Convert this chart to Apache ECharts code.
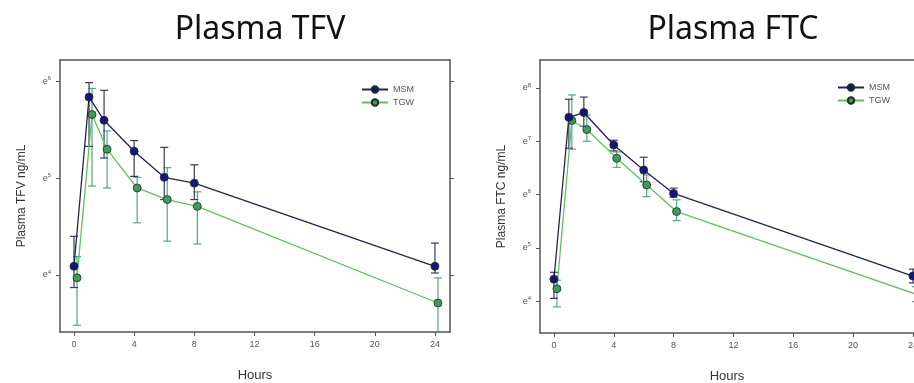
<!DOCTYPE html>
<html>
<head>
<meta charset="utf-8">
<script src="https://cdn.jsdelivr.net/npm/echarts@6/dist/echarts.min.js"></script>
<style>
html,body{margin:0;padding:0;background:#fff;}
#c{width:914px;height:383px;}
</style>
</head>
<body>
<div id="c"></div>
<script>
// Time points (hours); TGW points are drawn slightly offset in the reference
const hoursMSM = [0, 1, 2, 4, 6, 8, 24];
const hoursTGW = [0.2, 1.2, 2.2, 4.2, 6.2, 8.2, 24.2];
const xTicks = [0, 4, 8, 12, 16, 20, 24];

// Values are natural-log exponents (axis labelled e^n)
const tfvMSM     = [4.09, 5.84, 5.60, 5.28, 5.01, 4.95, 4.09];
const tfvMSMHigh = [4.40, 5.99, 5.91, 5.39, 5.32, 5.14, 4.33];
const tfvMSMLow  = [3.87, 5.33, 5.21, 5.02, 4.78, 4.78, 4.02];
const tfvTGW     = [3.97, 5.66, 5.30, 4.90, 4.78, 4.71, 3.71];
const tfvTGWHigh = [4.19, 5.93, 5.49, 5.01, 5.11, 4.86, 3.97];
const tfvTGWLow  = [3.48, 4.92, 4.90, 4.54, 4.35, 4.32, 3.35];

const ftcMSM     = [4.41, 7.45, 7.54, 6.93, 6.46, 6.02, 4.47];
const ftcMSMHigh = [4.54, 7.79, 7.83, 7.02, 6.70, 6.12, 4.60];
const ftcMSMLow  = [4.05, 6.87, 7.28, 6.82, 6.24, 5.95, 4.34];
const ftcTGW     = [4.23, 7.39, 7.22, 6.68, 6.18, 5.68, 4.13];
const ftcTGWHigh = [4.39, 7.87, 7.49, 6.80, 6.37, 5.90, 4.27];
const ftcTGWLow  = [3.89, 6.85, 7.00, 6.51, 5.96, 5.51, 3.99];

const tfvTicks = [4, 5, 6];
const ftcTicks = [4, 5, 6, 7, 8];

const MSM_LINE = '#23234f', MSM_MARK = '#15157a', MSM_BAR = '#3a3a5a';
const TGW_LINE = '#62c062', TGW_MARK = '#3f9a5e', TGW_BAR = '#55a880';
const FONT = 'Liberation Sans, Arial, sans-serif';
const AX = '#555';

function pairs(xs, ys){ return xs.map((x,i)=>[x, ys[i]]); }
function bars(xs, lo, hi){ return xs.map((x,i)=>[x, lo[i], hi[i]]); }

function errRender(color){
  return function(params, api){
    const x = api.value(0);
    const lo = api.coord([x, api.value(1)]);
    const hi = api.coord([x, api.value(2)]);
    const w = 4;
    const st = {stroke: color, lineWidth: 1.2};
    return {type:'group', children:[
      {type:'line', shape:{x1:lo[0],y1:lo[1],x2:hi[0],y2:hi[1]}, style:st},
      {type:'line', shape:{x1:hi[0]-w,y1:hi[1],x2:hi[0]+w,y2:hi[1]}, style:st},
      {type:'line', shape:{x1:lo[0]-w,y1:lo[1],x2:lo[0]+w,y2:lo[1]}, style:st}
    ]};
  };
}

function xAxis(gi, max){
  return {
    type:'value', gridIndex:gi, min:-0.93, max:max, position:'bottom',
    name:'Hours', nameLocation:'middle', nameGap:37,
    nameTextStyle:{fontFamily:FONT, fontSize:13, color:'#333'},
    axisLine:{show:true, onZero:false, lineStyle:{color:AX, width:1.5}},
    axisTick:{show:true, length:4, customValues:xTicks, lineStyle:{color:AX}},
    axisLabel:{customValues:xTicks, fontFamily:FONT, fontSize:9, color:'#555', margin:8},
    splitLine:{show:false}
  };
}
function xAxisTop(gi, max){
  return {
    type:'value', gridIndex:gi, min:-0.93, max:max, position:'top',
    axisLine:{show:true, onZero:false, lineStyle:{color:AX, width:1.5}},
    axisTick:{show:false}, axisLabel:{show:false}, splitLine:{show:false}
  };
}
function yAxis(gi, min, max, ticks, name){
  return {
    type:'value', gridIndex:gi, min:min, max:max, position:'left',
    name:name, nameLocation:'middle', nameGap:32, nameRotate:90,
    nameTextStyle:{fontFamily:FONT, fontSize:12, color:'#333'},
    axisLine:{show:true, onZero:false, lineStyle:{color:AX, width:1.5}},
    axisTick:{show:true, length:4, customValues:ticks, lineStyle:{color:AX}},
    axisLabel:{customValues:ticks, margin:9,
      formatter: v => '{b|e}{s|' + v + '}',
      rich:{b:{fontFamily:FONT, fontSize:9, color:'#555'},
            s:{fontFamily:FONT, fontSize:6, color:'#555', padding:[0,0,6,0]}}},
    splitLine:{show:false}
  };
}
function yAxisMirror(gi, min, max, ticks){
  return {
    type:'value', gridIndex:gi, min:min, max:max, position:'right',
    axisLine:{show:true, onZero:false, lineStyle:{color:AX, width:1.5}},
    axisTick:{show:true, length:4, customValues:ticks, lineStyle:{color:AX}},
    axisLabel:{show:false}, splitLine:{show:false}
  };
}

function lineSeries(name, xi, yi, data, lineColor, markColor){
  return {
    name:name, type:'line', xAxisIndex:xi, yAxisIndex:yi, data:data,
    symbol:'circle', symbolSize:8, z:5,
    lineStyle:{color:lineColor, width:1.3},
    itemStyle:{color:markColor, borderColor:'#1d2a2a', borderWidth:0.8}
  };
}
function errSeries(xi, yi, data, color){
  return {type:'custom', xAxisIndex:xi, yAxisIndex:yi, data:data, clip:true, z:3,
    renderItem: errRender(color), silent:true};
}

const chart = echarts.init(document.getElementById('c'), null, {renderer:'canvas'});
chart.setOption({
  backgroundColor:'#fff',
  animation:false,
  title:[
    {text:'Plasma TFV', left:255, top:9, textAlign:'center',
     textStyle:{fontFamily:'Noto Sans, sans-serif', fontSize:32, fontWeight:'normal', color:'#111'}},
    {text:'Plasma FTC', left:728, top:9, textAlign:'center',
     textStyle:{fontFamily:'Noto Sans, sans-serif', fontSize:32, fontWeight:'normal', color:'#111'}}
  ],
  legend:[
    {data:['MSM','TGW'], orient:'vertical', left:356, top:80, itemWidth:26, itemHeight:8, itemGap:4,
     textStyle:{fontFamily:FONT, fontSize:9, color:'#555'}},
    {data:['MSM','TGW'], orient:'vertical', left:832, top:78, itemWidth:26, itemHeight:8, itemGap:4,
     textStyle:{fontFamily:FONT, fontSize:9, color:'#555'}}
  ],
  grid:[
    {left:60, top:60, width:390, height:272, show:false, containLabel:false, outerBoundsMode:'none'},
    {left:540, top:60, width:374, height:273, show:false, containLabel:false, outerBoundsMode:'none'}
  ],
  xAxis:[xAxis(0, 25), xAxisTop(0, 25), xAxis(1, 24.07), xAxisTop(1, 24.07)],
  yAxis:[
    yAxis(0, 3.41, 6.224, tfvTicks, 'Plasma TFV ng/mL'),
    yAxisMirror(0, 3.41, 6.224, tfvTicks),
    yAxis(1, 3.40, 8.526, ftcTicks, 'Plasma FTC ng/mL')
  ],
  series:[
    errSeries(0, 0, bars(hoursTGW, tfvTGWLow, tfvTGWHigh), TGW_BAR),
    errSeries(0, 0, bars(hoursMSM, tfvMSMLow, tfvMSMHigh), MSM_BAR),
    lineSeries('TGW', 0, 0, pairs(hoursTGW, tfvTGW), TGW_LINE, TGW_MARK),
    lineSeries('MSM', 0, 0, pairs(hoursMSM, tfvMSM), MSM_LINE, MSM_MARK),
    errSeries(2, 2, bars(hoursTGW, ftcTGWLow, ftcTGWHigh), TGW_BAR),
    errSeries(2, 2, bars(hoursMSM, ftcMSMLow, ftcMSMHigh), MSM_BAR),
    lineSeries('TGW', 2, 2, pairs(hoursTGW, ftcTGW), TGW_LINE, TGW_MARK),
    lineSeries('MSM', 2, 2, pairs(hoursMSM, ftcMSM), MSM_LINE, MSM_MARK)
  ]
});
</script>
</body>
</html>
